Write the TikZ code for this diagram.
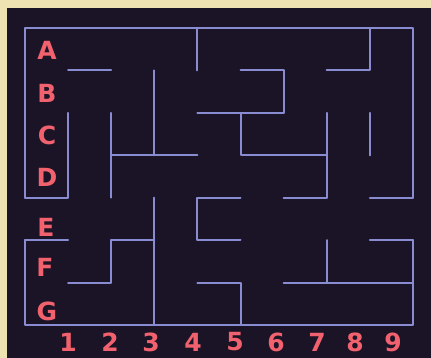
\documentclass[tikz,border=0pt]{standalone}
\usepackage{fontspec}
\setmainfont{DejaVu Sans}
\definecolor{paper}{RGB}{238,226,178}
\definecolor{screen}{RGB}{27,19,38}
\definecolor{wallc}{RGB}{138,140,210}
\definecolor{glyph}{RGB}{242,98,110}
\begin{document}
\begin{tikzpicture}[x=1pt, y=-1pt,
    wall/.style={draw=wallc, line width=2pt, line cap=round, line join=round},
    lbl/.style={text=glyph, font=\fontsize{25}{25}\selectfont\bfseries, inner sep=0pt}]

    % Paper and screen
    \useasboundingbox (0,0) rectangle (431,358);
    \fill[paper] (0,0) rectangle (431,358);
    \fill[screen] (7,8) rectangle (431,358);

    % Maze: one unit is one cell, 9 columns and 7 rows
    \begin{scope}[shift={(25,28)}, x=43.1pt, y=-42.43pt]

    % Outer walls, open at row E on both sides
    \draw[wall] (0,4) -- (0,0) -- (9,0) -- (9,4);
    \draw[wall] (0,5) -- (0,7) -- (9,7) -- (9,5);

    % Rows A and B
    \draw[wall] (1,1) -- (2,1);
    \draw[wall] (4,0) -- (4,1);
    \draw[wall] (5,1) -- (6,1) -- (6,2) -- (4,2);
    \draw[wall] (7,1) -- (8,1) -- (8,0);

    % Rows C and D
    \draw[wall] (1,2) -- (1,4) -- (0,4);
    \draw[wall] (2,2) -- (2,4);
    \draw[wall] (3,1) -- (3,3);
    \draw[wall] (2,3) -- (4,3);
    \draw[wall] (5,2) -- (5,3) -- (7,3);
    \draw[wall] (7,2) -- (7,4) -- (6,4);
    \draw[wall] (8,2) -- (8,3);
    \draw[wall] (8,4) -- (9,4);

    % Rows E, F and G
    \draw[wall] (0,5) -- (1,5);
    \draw[wall] (1,6) -- (2,6) -- (2,5) -- (3,5);
    \draw[wall] (3,4) -- (3,7);
    \draw[wall] (5,4) -- (4,4) -- (4,5) -- (5,5);
    \draw[wall] (4,6) -- (5,6) -- (5,7);
    \draw[wall] (6,6) -- (9,6);
    \draw[wall] (7,5) -- (7,6);
    \draw[wall] (8,5) -- (9,5);

    \end{scope}

    % Row letters
    \node[lbl] (rowA) at (47,50) {A};
    \node[lbl] (rowB) at (47,93) {B};
    \node[lbl] (rowC) at (47,135) {C};
    \node[lbl] (rowD) at (47,177) {D};
    \node[lbl] (rowE) at (46,227) {E};
    \node[lbl] (rowF) at (45,267) {F};
    \node[lbl] (rowG) at (47,311) {G};

    % Column numbers
    \node[lbl] (col1) at (68,342) {1};
    \node[lbl] (col2) at (110,342) {2};
    \node[lbl] (col3) at (151,342) {3};
    \node[lbl] (col4) at (193,342) {4};
    \node[lbl] (col5) at (235,342) {5};
    \node[lbl] (col6) at (276,342) {6};
    \node[lbl] (col7) at (317,342) {7};
    \node[lbl] (col8) at (355,342) {8};
    \node[lbl] (col9) at (393,342) {9};

\end{tikzpicture}
\end{document}
